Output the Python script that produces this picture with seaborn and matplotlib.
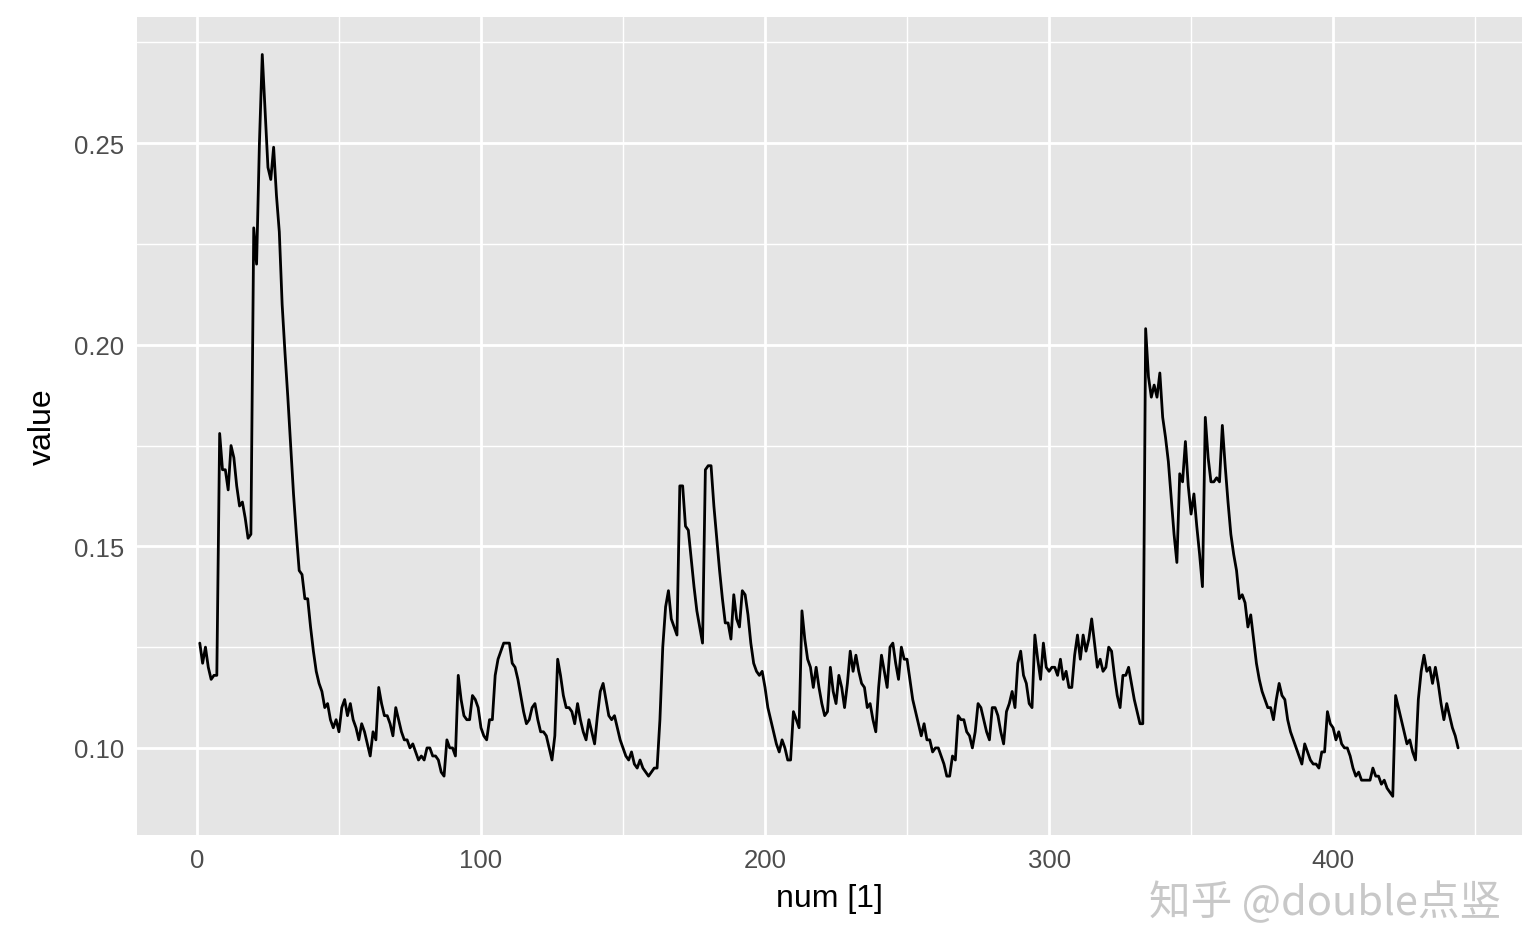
import numpy as np
import pandas as pd
import matplotlib
matplotlib.use("Agg")
import matplotlib.pyplot as plt
import seaborn as sns

values = [0.126,0.121,0.125,0.120,0.117,0.118,0.118,0.178,0.169,0.169,0.164,0.175,0.172,0.165,0.160,0.161,0.157,0.152,0.153,0.229,
0.220,0.250,0.272,0.258,0.244,0.241,0.249,0.237,0.228,0.210,0.198,0.187,0.175,0.163,0.153,0.144,0.143,0.137,0.137,0.130,
0.124,0.119,0.116,0.114,0.110,0.111,0.107,0.105,0.107,0.104,0.110,0.112,0.108,0.111,0.107,0.105,0.102,0.106,0.104,0.101,
0.098,0.104,0.102,0.115,0.111,0.108,0.108,0.106,0.103,0.110,0.107,0.104,0.102,0.102,0.100,0.101,0.099,0.097,0.098,0.097,
0.100,0.100,0.098,0.098,0.097,0.094,0.093,0.102,0.100,0.100,0.098,0.118,0.112,0.108,0.107,0.107,0.113,0.112,0.110,0.105,
0.103,0.102,0.107,0.107,0.118,0.122,0.124,0.126,0.126,0.126,0.121,0.120,0.117,0.113,0.109,0.106,0.107,0.110,0.111,0.107,
0.104,0.104,0.103,0.100,0.097,0.103,0.122,0.118,0.113,0.110,0.110,0.109,0.106,0.111,0.107,0.104,0.102,0.107,0.104,0.101,
0.108,0.114,0.116,0.112,0.108,0.107,0.108,0.105,0.102,0.100,0.098,0.097,0.099,0.096,0.095,0.097,0.095,0.094,0.093,0.094,
0.095,0.095,0.107,0.125,0.135,0.139,0.132,0.130,0.128,0.165,0.165,0.155,0.154,0.147,0.140,0.134,0.130,0.126,0.169,0.170,
0.170,0.160,0.152,0.144,0.137,0.131,0.131,0.127,0.138,0.132,0.130,0.139,0.138,0.133,0.126,0.121,0.119,0.118,0.119,0.115,
0.110,0.107,0.104,0.101,0.099,0.102,0.100,0.097,0.097,0.109,0.107,0.105,0.134,0.127,0.122,0.120,0.115,0.120,0.115,0.111,
0.108,0.109,0.120,0.114,0.111,0.118,0.115,0.110,0.116,0.124,0.119,0.123,0.119,0.116,0.115,0.110,0.111,0.107,0.104,0.115,
0.123,0.119,0.115,0.125,0.126,0.121,0.117,0.125,0.122,0.122,0.117,0.112,0.109,0.106,0.103,0.106,0.102,0.102,0.099,0.100,
0.100,0.098,0.096,0.093,0.093,0.098,0.097,0.108,0.107,0.107,0.104,0.103,0.100,0.104,0.111,0.110,0.107,0.104,0.102,0.110,
0.110,0.108,0.104,0.101,0.109,0.111,0.114,0.110,0.121,0.124,0.118,0.116,0.111,0.110,0.128,0.122,0.117,0.126,0.120,0.119,
0.120,0.120,0.118,0.122,0.117,0.119,0.115,0.115,0.123,0.128,0.122,0.128,0.124,0.127,0.132,0.126,0.120,0.122,0.119,0.120,0.125,
0.124,0.118,0.113,0.110,0.118,0.118,0.120,0.116,0.112,0.109,0.106,0.106,0.204,0.192,0.187,0.190,0.187,0.193,0.182,0.177,
0.171,0.162,0.153,0.146,0.168,0.166,0.176,0.165,0.158,0.163,0.155,0.148,0.140,0.182,0.172,0.166,0.166,0.167,0.166,0.180,
0.170,0.161,0.153,0.148,0.144,0.137,0.138,0.136,0.130,0.133,0.127,0.121,0.117,0.114,0.112,0.110,0.110,0.107,0.112,0.116,
0.113,0.112,0.107,0.104,0.102,0.100,0.098,0.096,0.101,0.099,0.097,0.096,0.096,0.095,0.099,0.099,0.109,0.106,0.105,0.102,
0.104,0.101,0.100,0.100,0.098,0.095,0.093,0.094,0.092,0.092,0.092,0.092,0.095,0.093,0.093,0.091,0.092,0.090,0.089,0.088,0.113,
0.110,0.107,0.104,0.101,0.102,0.099,0.097,0.112,0.119,0.123,0.119,0.120,0.116,0.120,0.116,0.111,0.107,0.111,0.108,0.105,
0.103,0.100]
num = list(range(1, len(values) + 1))
x_ticks = [0, 100, 200, 300, 400]
y_ticks = [0.10, 0.15, 0.20, 0.25]
y_labels = ["0.10", "0.15", "0.20", "0.25"]

sns.set_theme(style="darkgrid", rc={"axes.facecolor": "#E5E5E5", "grid.color": "white"})
plt.rcParams['font.family'] = ['Liberation Sans', 'Noto Sans CJK SC', 'DejaVu Sans']

df = pd.DataFrame({"num": num, "value": values})
fig = plt.figure(figsize=(15.4, 9.45), dpi=100)
ax = fig.add_axes([137/1540, 1 - 836/945, (1522-137)/1540, (836-18)/945])
sns.lineplot(data=df, x="num", y="value", ax=ax, color="black", linewidth=2)

ax.set_xlim(-21.1, 466.5)
ax.set_ylim(0.0784, 0.2813)
ax.set_xticks(x_ticks)
ax.set_xticks([50, 150, 250, 350, 450], minor=True)
ax.set_yticks(y_ticks)
ax.set_yticklabels(y_labels)
ax.set_yticks([0.125, 0.175, 0.225, 0.275], minor=True)
ax.grid(which="major", color="white", linewidth=2)
ax.grid(which="minor", color="white", linewidth=1)
for s in ax.spines.values():
    s.set_visible(False)
ax.tick_params(axis="both", which="major", length=5, width=1.5, color="#333333",
               labelsize=18.5, labelcolor="#4D4D4D", pad=4)
ax.tick_params(axis="both", which="minor", length=0)
ax.set_xlabel("num [1]", fontsize=23, color="black", labelpad=8)
ax.set_ylabel("value", fontsize=23, color="black", labelpad=12)

fig.text(0.975, 0.045, "知乎 @double点竖", ha="right", va="center", fontsize=30,
         color="#BBBBBB", alpha=0.8, family=['Noto Sans CJK SC', 'DejaVu Sans'])

fig.savefig("out.png", dpi=100)
